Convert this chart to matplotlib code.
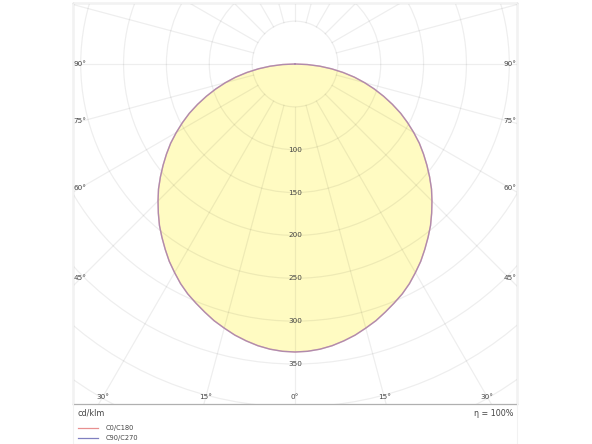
import numpy as np
import matplotlib
matplotlib.use("Agg")
import matplotlib.pyplot as plt
from matplotlib.patches import Circle, Polygon, Rectangle

# ---- data ----
gamma_deg = [0, 2.5, 5, 7.5, 10, 12.5, 15, 17.5, 20, 22.5, 25, 27.5, 30, 32.5, 35, 37.5,
             40, 42.5, 45, 47.5, 50, 52.5, 55, 57.5, 60, 62.5, 65, 67.5, 70, 72.5, 75,
             77.5, 80, 82.5, 85, 87.5, 90]
c0_c180 = [336, 335.5, 334, 331.5, 328, 324, 319, 314, 308, 302, 296, 289, 281, 273, 264, 255,
           246, 236, 226, 216, 205, 194, 183, 172, 160, 148, 136, 123, 110, 97, 84,
           71, 57, 43, 29, 14.5, 0]
c90_c270 = [336, 335.5, 334, 331.5, 328, 324, 319, 314, 308, 302, 296, 289, 281, 273, 264, 255,
            246, 236, 226, 216, 205, 194, 183, 172, 160, 148, 136, 123, 110, 97, 84,
            71, 57, 43, 29, 14.5, 0]
ring_values = [100, 150, 200, 250, 300, 350]
side_angle_labels = [90, 75, 60, 45]
bottom_angle_labels = [30, 15, 0]
unit_label = "cd/klm"
eff_label = "η = 100%"
series_names = ["C0/C180", "C90/C270"]
series_colors = ["#e89090", "#8080c0"]

W, H = 592, 444
fig = plt.figure(figsize=(W / 100, H / 100), dpi=100)

# pixel geometry of the plot box
px_left, px_right, px_top, px_bot = 73, 517, 3, 404
cx_px, cy_px = 295, 64
scale = (px_right - px_left) / 518.0  # px per cd

xmin = (px_left - cx_px) / scale
xmax = (px_right - cx_px) / scale
ymax = (cy_px - px_top) / scale
ymin = -(px_bot - cy_px) / scale

ax = fig.add_axes([px_left / W, 1 - px_bot / H, (px_right - px_left) / W, (px_bot - px_top) / H])
ax.set_xlim(xmin, xmax)
ax.set_ylim(ymin, ymax)
ax.set_aspect("equal", adjustable="box")
ax.set_xticks([])
ax.set_yticks([])
for s in ax.spines.values():
    s.set_color("#b0b0b0")
    s.set_linewidth(0.9)

# curve
g = np.radians(np.array(gamma_deg, dtype=float))
def curve(vals):
    v = np.array(vals, dtype=float)
    xl = -v * np.sin(g)
    yl = -v * np.cos(g)
    xs = np.concatenate([xl[::-1], -xl[1:]])
    ys = np.concatenate([yl[::-1], yl[1:]])
    return xs, ys

x0, y0 = curve(c0_c180)
x1, y1 = curve(c90_c270)
ax.add_patch(Polygon(np.column_stack([x0, y0]), closed=True, facecolor="#fffbc2",
                     edgecolor="none", zorder=1))

# grid
grid_col = (0, 0, 0, 0.065)
for r in range(50, 650, 50):
    ax.add_patch(Circle((0, 0), r, fill=False, edgecolor=grid_col, linewidth=0.9, zorder=2))
for a in range(0, 360, 15):
    t = np.radians(a)
    ax.plot([50 * np.sin(t), 700 * np.sin(t)], [-50 * np.cos(t), -700 * np.cos(t)],
            color=grid_col, linewidth=0.9, zorder=2)

ax.plot(x0, y0, color=series_colors[0], linewidth=1.0, alpha=0.9, zorder=3)
ax.plot(x1, y1, color=series_colors[1], linewidth=1.0, alpha=0.55, zorder=3)

tcol = "#444444"
fs = 5.2
for r in ring_values:
    ax.text(0, -r, str(r), ha="center", va="center", fontsize=fs, color=tcol, zorder=4)

inset_x = (81 - px_left) / scale
for a in side_angle_labels:
    t = np.radians(a)
    xl = xmin + inset_x
    dist = -xl
    y = -dist / np.tan(t) if a != 90 else 0
    ax.text(xl - 1, y, f"{a}°", ha="center", va="center", fontsize=fs, color=tcol, zorder=4)
    ax.text(-xl + 1, y, f"{a}°", ha="center", va="center", fontsize=fs, color=tcol, zorder=4)

yb = -(397 - cy_px) / scale
for a in bottom_angle_labels:
    t = np.radians(a)
    x = yb * np.tan(t)
    for sgn in ([1] if a == 0 else [-1, 1]):
        ax.text(sgn * abs(x), yb, f"{a}°", ha="center", va="center", fontsize=fs, color=tcol, zorder=4)

# outer faint frame
fig.patches.append(Rectangle((px_left / W, 0), (px_right - px_left) / W, 1 - px_top / H,
                             transform=fig.transFigure, fill=False, edgecolor="#f2f2f2",
                             linewidth=0.8, zorder=0))

fig.text(78 / W, 1 - 413 / H, unit_label, ha="left", va="center", fontsize=5.8, color=tcol)
fig.text(513 / W, 1 - 413 / H, eff_label, ha="right", va="center", fontsize=5.8, color=tcol)

for i, (name, col) in enumerate(zip(series_names, series_colors)):
    yy = 1 - (428 + 10 * i) / H
    fig.add_artist(plt.Line2D([78 / W, 98 / W], [yy, yy], color=col, linewidth=0.9,
                              transform=fig.transFigure))
    fig.text(106 / W, yy, name, ha="left", va="center", fontsize=4.8, color=tcol)

fig.savefig("out.png", dpi=100, facecolor="white")
